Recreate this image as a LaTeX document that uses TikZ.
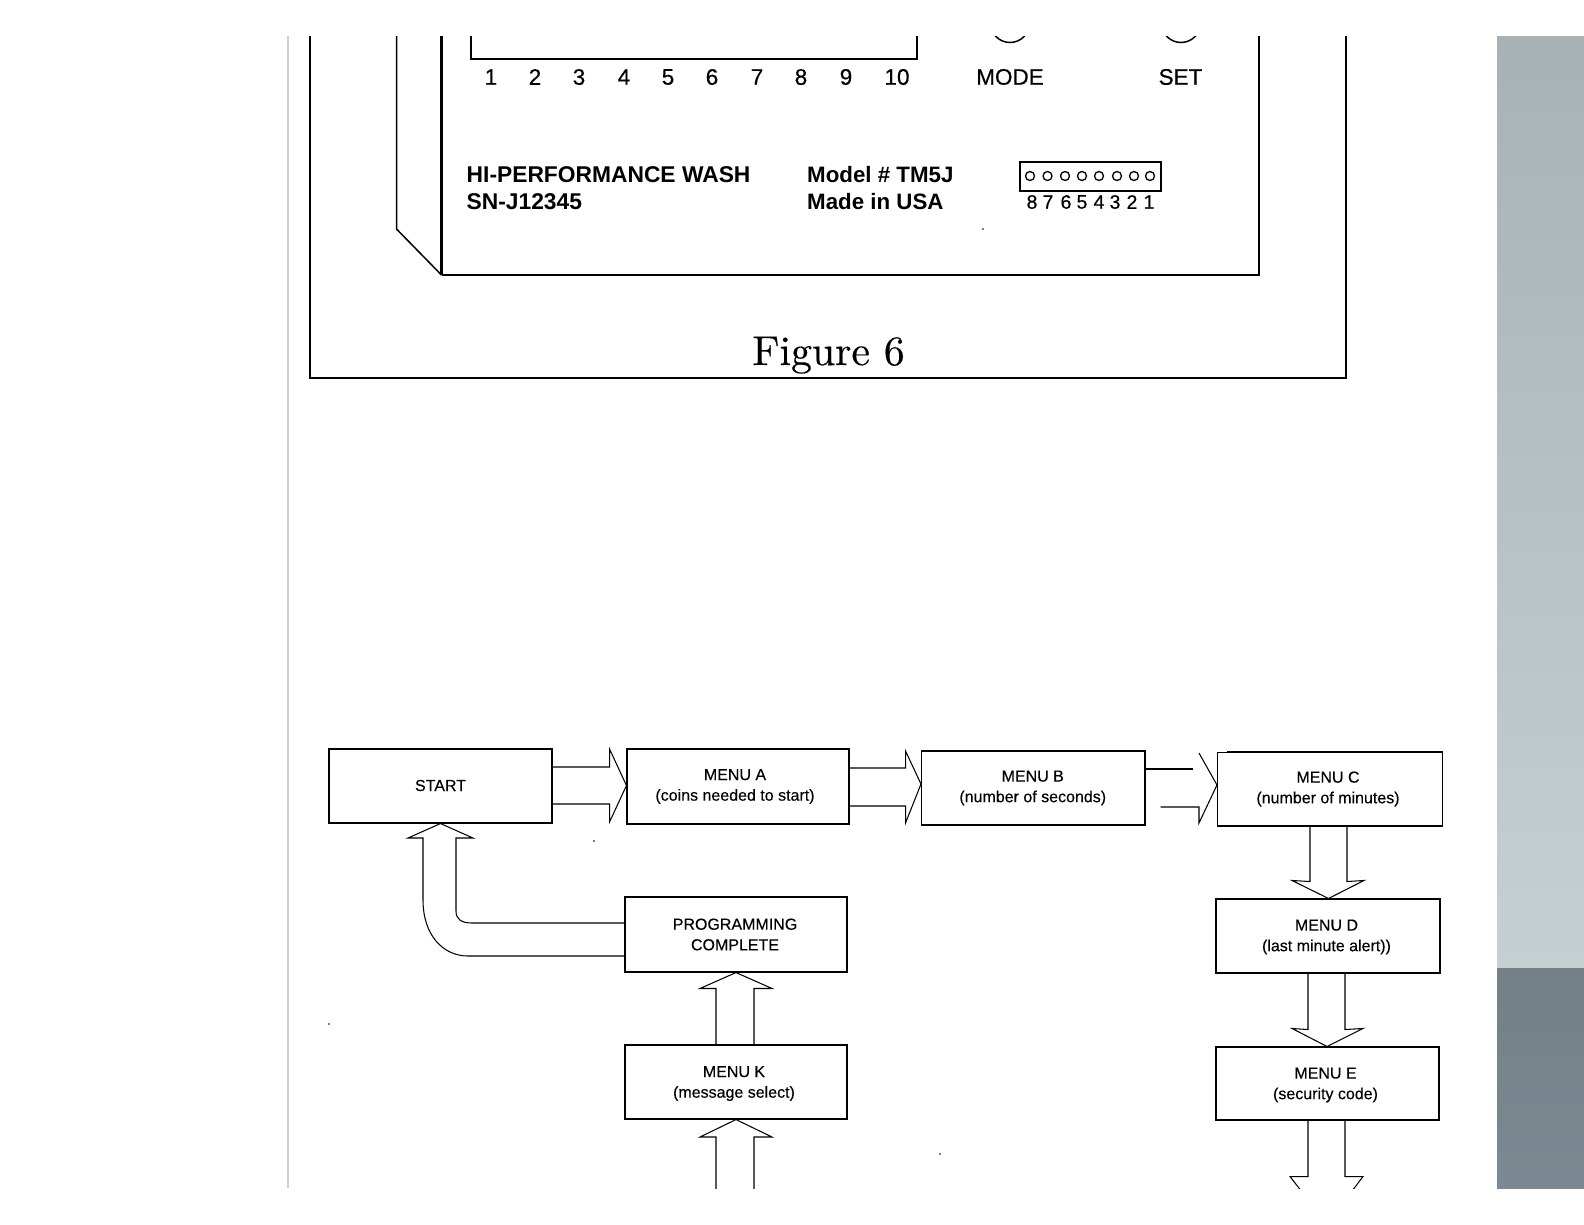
\documentclass[tikz,border=0pt]{standalone}
\usepackage{fontspec}
\setmainfont{Liberation Sans}
\newfontfamily\lmfig[FakeBold=0.35]{Latin Modern Roman}
\newfontfamily\flowfont[FakeBold=0.25]{Liberation Sans}
\newfontfamily\numfont[FakeBold=0.45]{Liberation Sans}
\usetikzlibrary{calc}
\definecolor{panelTop}{HTML}{A8B2B5}
\definecolor{panelBot}{HTML}{C6CFD2}
\definecolor{darkTop}{HTML}{738087}
\definecolor{darkBot}{HTML}{7B8992}
\tikzset{
  flowbox/.style={draw=black,line width=1.05pt,fill=white,inner sep=0pt},
  flowtext/.style={inner sep=0pt,align=center,font=\flowfont\fontsize{16}{20.6}\selectfont},
  blockarrow/.style={draw=black,line width=1.05pt,line join=miter},
  heavy/.style={draw=black,line width=2.3pt},
  thin panel/.style={draw=black,line width=1.5pt},
  numlabel/.style={inner sep=0pt,font=\numfont\fontsize{22.5}{26}\selectfont},
  platelabel/.style={inner sep=0pt,anchor=west,font=\fontsize{22.8}{26}\selectfont\bfseries},
  modellabel/.style={inner sep=0pt,anchor=west,font=\fontsize{22.3}{26}\selectfont\bfseries},
  pinlabel/.style={inner sep=0pt,font=\numfont\fontsize{19.5}{22}\selectfont},
  pin/.style={circle,draw=black,line width=1.3pt,minimum size=9pt,inner sep=0pt},
  speck/.style={fill=black,circle,minimum size=1.8pt,inner sep=0pt}
}
\begin{document}
\begin{tikzpicture}[x=1pt,y=-1pt]
\useasboundingbox (0,0) rectangle (1584,1224);
\fill[white] (0,0) rectangle (1584,1224);
% side panels
\shade[top color=panelTop,bottom color=panelBot] (1497,36) rectangle (1584,968);
\shade[top color=darkTop,bottom color=darkBot] (1497,968) rectangle (1584,1188);
% page edge
\draw[color=black!18,line width=1.5pt] (288,36) -- (288,1188);
\begin{scope}
\clip (288,36) rectangle (1497,1188);
% ---- figure 6 ----
\coordinate (oTL) at (310,30);
\coordinate (oBL) at (310,378);
\coordinate (oBR) at (1346,378);
\coordinate (oTR) at (1346,30);
\draw[heavy] (oTL) -- (oBL) -- (oBR) -- (oTR);
\coordinate (pTL) at (441.5,30);
\coordinate (pBL) at (441.5,275);
\coordinate (pBR) at (1259,275);
\coordinate (pTR) at (1259,30);
\draw[draw=black,line width=3pt] (pTL) -- (pBL);
\draw[heavy] (pBL) -- (pBR) -- (pTR);
\coordinate (sT) at (396.5,30);
\coordinate (sB) at (396.5,229);
\draw[thin panel] (sT) -- (sB) -- (pBL);
\coordinate (dTL) at (471,30);
\coordinate (dBL) at (471,59);
\coordinate (dBR) at (917,59);
\coordinate (dTR) at (917,30);
\draw[heavy] (dTL) -- (dBL) -- (dBR) -- (dTR);
\node[numlabel] (n1) at (491,77) {1};
\node[numlabel] (n2) at (535,77) {2};
\node[numlabel] (n3) at (579,77) {3};
\node[numlabel] (n4) at (624,77) {4};
\node[numlabel] (n5) at (668,77) {5};
\node[numlabel] (n6) at (712,77) {6};
\node[numlabel] (n7) at (757,77) {7};
\node[numlabel] (n8) at (801,77) {8};
\node[numlabel] (n9) at (846,77) {9};
\node[numlabel] (n10) at (897,77) {10};
\node[numlabel] (mode) at (1010,77) {MODE};
\node[numlabel] (set) at (1180.5,77) {SET};
\node[circle,thin panel,minimum size=39pt,inner sep=0pt] (modeb) at (1010,23) {};
\node[circle,thin panel,minimum size=39pt,inner sep=0pt] (setb) at (1181,23) {};
\node[platelabel] (hi) at (466.5,175) {HI-PERFORMANCE WASH};
\node[platelabel] (sn) at (466.5,202) {SN-J12345};
\node[modellabel] (model) at (807,175) {Model \# TM5J};
\node[modellabel] (made) at (807,202) {Made in USA};
\node[draw=black,line width=1.5pt,minimum width=141pt,minimum height=29pt,inner sep=0pt] (conn) at (1090.5,176.5) {};
\foreach \i/\x in {p8/1030,p7/1047.5,p6/1065,p5/1082,p4/1099,p3/1117,p2/1134,p1/1150}
  \node[pin] (\i) at (\x,176) {};
\foreach \i/\t/\x in {l8/8/1032,l7/7/1048,l6/6/1066,l5/5/1082,l4/4/1099,l3/3/1115,l2/2/1132,l1/1/1149}
  \node[pinlabel] (\i) at (\x,202) {\t};
\node[inner sep=0pt,anchor=base,scale=4.17,font=\lmfig\fontsize{10}{12}\selectfont] (fig) at (828.5,365) {Figure 6};
% ---- flow chart boxes ----
\node[flowbox,minimum width=223pt,minimum height=74pt] (start) at (440.5,786) {};
\node[flowbox,minimum width=222pt,minimum height=75pt] (menua) at (738,786.5) {};
\node[flowbox,minimum width=223.5pt,minimum height=74pt] (menub) at (1033.25,788) {};
\node[flowbox,minimum width=225pt,minimum height=74pt] (menuc) at (1330,789) {};
\node[flowbox,minimum width=224pt,minimum height=74pt] (menud) at (1328,936) {};
\node[flowbox,minimum width=223pt,minimum height=73pt] (menue) at (1327.5,1083.5) {};
\node[flowbox,minimum width=222pt,minimum height=75pt] (prog) at (736,934.5) {};
\node[flowbox,minimum width=222pt,minimum height=74pt] (menuk) at (736,1082) {};
% texts
\node[flowtext] (tstart) at ($(start)+(0,-0.5)$) {START};
\node[flowtext] (ta) at ($(menua)+(-3,0)$) {MENU A\\(coins needed to start)};
\node[flowtext] (tb) at ($(menub)+(-0.5,0)$) {MENU B\\(number of seconds)};
\node[flowtext] (tc) at ($(menuc)+(-2,0)$) {MENU C\\(number of minutes)};
\node[flowtext] (td) at ($(menud)+(-1.5,1)$) {MENU D\\(last minute alert))};
\node[flowtext] (te) at ($(menue)+(-2,1.5)$) {MENU E\\(security code)};
\node[flowtext] (tp) at ($(prog)+(-1,0)$) {PROGRAMMING\\COMPLETE};
\node[flowtext] (tk) at ($(menuk)+(-2,1.5)$) {MENU K\\(message select)};
% gap in the top edge of MENU C
\draw[white,line width=2pt] (menuc.north west) -- ++(10,0);
% ---- block arrows ----
\draw[blockarrow] ($(start.east)+(0,-19)$) -- ($(start.east)+(57,-19)$) -- ($(start.east)+(57,-37)$) -- ($(menua.west)+(0,-1)$) -- ($(start.east)+(57,36)$) -- ($(start.east)+(57,18)$) -- ($(start.east)+(0,18)$);
\draw[blockarrow] ($(menua.east)+(0,-18.5)$) -- ($(menua.east)+(56,-18.5)$) -- ($(menua.east)+(56,-35.5)$) -- ($(menub.west)+(0,-4)$) -- ($(menua.east)+(56,36.5)$) -- ($(menua.east)+(56,19.5)$) -- ($(menua.east)+(0,19.5)$);
\draw[blockarrow] ($(menub.east)+(0,-19)$) -- ($(menub.east)+(47,-19)$);
\draw[blockarrow] ($(menuc.west)+(-18,-36)$) -- ($(menuc.west)+(0,-4)$) -- ($(menuc.west)+(-18,34)$) -- ($(menuc.west)+(-18,18)$) -- ($(menub.east)+(15,19)$);
\draw[blockarrow] ($(menuc.south)+(-20,0)$) -- ($(menuc.south)+(-20,55)$) -- ($(menud.north)+(-36,-18)$) -- ($(menud.north)+(0.5,0)$) -- ($(menud.north)+(36,-18)$) -- ($(menuc.south)+(17,55)$) -- ($(menuc.south)+(17,0)$);
\draw[blockarrow] ($(menud.south)+(-20,0)$) -- ($(menud.south)+(-20,56)$) -- ($(menue.north)+(-35.5,-18)$) -- ($(menue.north)+(-0.5,0)$) -- ($(menue.north)+(35.5,-18)$) -- ($(menud.south)+(17,56)$) -- ($(menud.south)+(17,0)$);
\coordinate (offE) at (1327,1224);
\draw[blockarrow] ($(menue.south)+(-19.5,0)$) -- ($(menue.south)+(-19.5,56)$) -- ($(menue.south)+(-37.5,56)$) -- (offE) -- ($(menue.south)+(35.5,56)$) -- ($(menue.south)+(17.5,56)$) -- ($(menue.south)+(17.5,0)$);
\draw[blockarrow] ($(menuk.north)+(-20,0)$) -- ($(menuk.north)+(-20,-56)$) -- ($(menuk.north)+(-36,-56)$) -- (prog.south) -- ($(menuk.north)+(36,-56)$) -- ($(menuk.north)+(18,-56)$) -- ($(menuk.north)+(18,0)$);
\coordinate (inK) at (736,1200);
\draw[blockarrow] (716,1200) -- (716,1137) -- (700,1137) -- (menuk.south) -- (772,1137) -- (754,1137) -- (754,1200);
% return arrow from PROGRAMMING COMPLETE to START
\draw[blockarrow] ($(prog.west)+(0,-11.5)$) -- (472,923) .. controls (461,923) and (456,919) .. (456,911) -- (456,838) -- (473,838) -- (start.south) -- (408,838) -- (423,838) -- (423,900) .. controls (423,935) and (443,956) .. (468,956) -- ($(prog.west)+(0,21.5)$);
% specks
\node[speck] (s1) at (983,229) {};
\node[speck] (s2) at (594,841) {};
\node[speck] (s3) at (329,1024) {};
\node[speck] (s4) at (940,1154) {};
\end{scope}
\end{tikzpicture}
\end{document}
